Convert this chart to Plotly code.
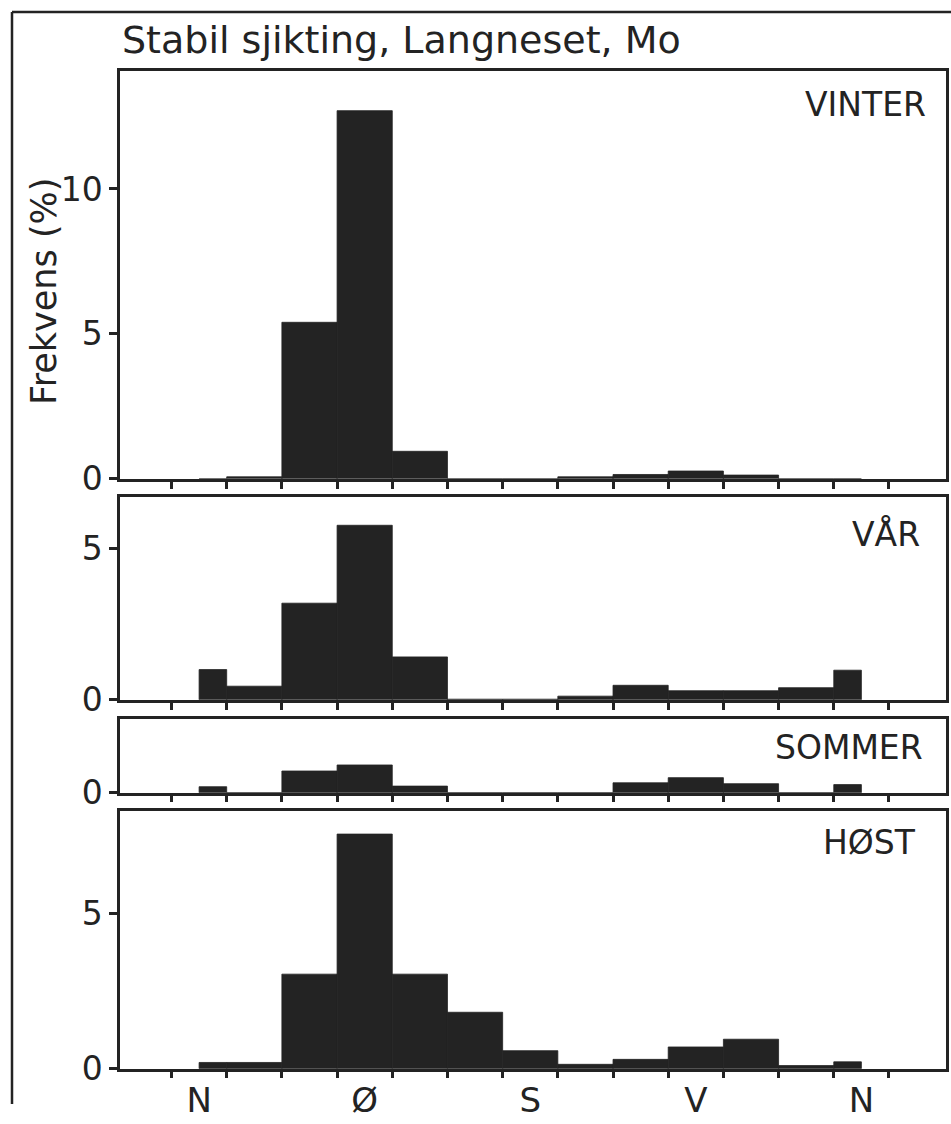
import plotly.graph_objects as go

# ---------------- data ----------------
# wind-direction sectors in degrees (N sector split into two halves at the ends)
sector_start = [0, 15, 45, 75, 105, 135, 165, 195, 225, 255, 285, 315, 345]
sector_end = [15, 45, 75, 105, 135, 165, 195, 225, 255, 285, 315, 345, 360]

vinter = [0.0, 0.07, 5.4, 12.7, 0.95, 0.0, 0.0, 0.07, 0.15, 0.27, 0.13, 0.0, 0.0]
vaar = [1.0, 0.45, 3.2, 5.78, 1.42, 0.02, 0.02, 0.12, 0.48, 0.3, 0.3, 0.4, 0.98]
sommer = [0.2, 0.0, 0.72, 0.92, 0.22, 0.0, 0.0, 0.0, 0.33, 0.5, 0.3, 0.0, 0.27]
hoest = [0.2, 0.2, 3.05, 7.57, 3.05, 1.82, 0.58, 0.14, 0.3, 0.7, 0.95, 0.1, 0.22]

season_names = ["VINTER", "VÅR", "SOMMER", "HØST"]
season_values = [vinter, vaar, sommer, hoest]
y_tick_values = [[0, 5, 10], [0, 5], [0], [0, 5]]

dir_tick_deg = [0, 90, 180, 270, 360]
dir_tick_text = ["N", "Ø", "S", "V", "N"]
sector_boundaries = list(range(-15, 376, 30))

title_text = "Stabil sjikting, Langneset, Mo"
y_title = "Frekvens (%)"

# ---------------- layout helpers ----------------
W, H = 951, 1124
VS = 1144 / 1124  # vertical pre-compensation for the capture

def px(x):
    return x / W

def py(y):
    return 1 - (y * VS) / H

INK = "#232323"
FONT = "DejaVu Sans"
LW = 2.5

x_dom = [px(120), px(946)]
# (top px, bottom px, px per unit) measured on the reference
panels = [(71, 479, 29.0), (497, 700, 30.2), (719, 793, 30.2), (811, 1069, 31.0)]
label_pos = [(928, 105), (922, 534), (925, 748), (918, 843)]

centers = [(a + b) / 2 for a, b in zip(sector_start, sector_end)]
widths = [b - a for a, b in zip(sector_start, sector_end)]

fig = go.Figure()
layout = dict(
    width=W, height=H, autosize=False,
    margin=dict(l=0, r=0, t=0, b=0),
    paper_bgcolor="white", plot_bgcolor="white",
    showlegend=False,
    font=dict(family=FONT, color=INK),
)

annotations = []
for i, (name, vals) in enumerate(zip(season_names, season_values)):
    k = i + 1
    sfx = "" if k == 1 else str(k)
    top, bot, ppu = panels[i]
    fig.add_trace(go.Bar(
        x=centers, y=vals, width=widths,
        marker=dict(color=INK, line=dict(width=0.8, color=INK)),
        xaxis="x" + sfx, yaxis="y" + sfx,
        hoverinfo="x+y",
    ))
    layout["xaxis" + sfx] = dict(
        domain=x_dom, anchor="y" + sfx, range=[-43, 406],
        showline=True, mirror=True, linewidth=LW, linecolor=INK,
        showgrid=False, zeroline=False,
        tickmode="array", tickvals=dir_tick_deg, ticktext=dir_tick_text,
        ticks="", showticklabels=(k == 4),
        tickfont=dict(size=34, family=FONT, color=INK),
        ticklabelstandoff=0,
        minor=dict(tickmode="array", tickvals=sector_boundaries,
                   ticks="outside", ticklen=7, tickwidth=LW, tickcolor=INK,
                   showgrid=False),
    )
    layout["yaxis" + sfx] = dict(
        domain=[py(bot), py(top)], anchor="x" + sfx,
        range=[0, (bot - top) / ppu],
        showline=True, mirror=True, linewidth=LW, linecolor=INK,
        showgrid=False, zeroline=False,
        tickmode="array", tickvals=y_tick_values[i],
        ticks="outside", ticklen=8, tickwidth=LW, tickcolor=INK,
        tickfont=dict(size=33, family=FONT, color=INK),
    )
    lx, ly = label_pos[i]
    annotations.append(dict(
        text=name, xref="paper", yref="paper", x=px(lx), y=py(ly),
        xanchor="right", yanchor="middle", showarrow=False,
        font=dict(size=33, family=FONT, color=INK),
    ))

annotations.append(dict(
    text=title_text, xref="paper", yref="paper", x=px(120), y=py(40),
    xanchor="left", yanchor="middle", showarrow=False,
    font=dict(size=38, family=FONT, color=INK),
))
annotations.append(dict(
    text=y_title, xref="paper", yref="paper", x=px(44), y=py(292),
    xanchor="center", yanchor="middle", textangle=-90, showarrow=False,
    font=dict(size=35, family=FONT, color=INK),
))
layout["annotations"] = annotations
layout["shapes"] = [
    dict(type="line", xref="paper", yref="paper",
         x0=px(12), y0=py(12), x1=px(12), y1=0,
         line=dict(color=INK, width=LW)),
    dict(type="line", xref="paper", yref="paper",
         x0=px(12), y0=py(12), x1=1, y1=py(12),
         line=dict(color=INK, width=LW)),
]
fig.update_layout(**layout)
fig.write_html("out.html")
